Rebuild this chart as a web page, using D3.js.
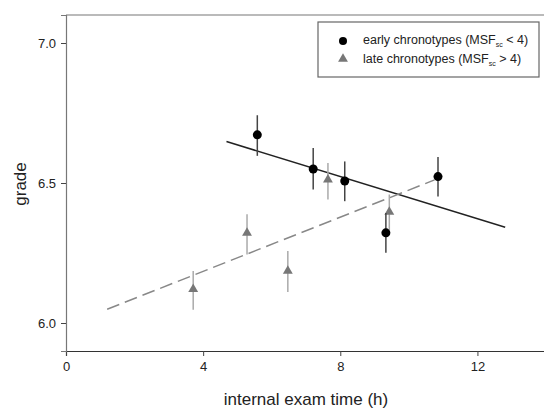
<!DOCTYPE html>
<body style="margin:0">
<svg width="544" height="408" font-family="Liberation Sans, Arial, sans-serif"></svg>
</body>
<script src="https://d3js.org/d3.v7.min.js"></script>
<script>

// early chronotypes (MSFsc < 4)
var earlyTime  = [5.58, 7.21, 8.13, 9.33, 10.85];
var earlyGrade = [6.672, 6.550, 6.507, 6.322, 6.523];
var earlyLo    = [6.597, 6.477, 6.435, 6.251, 6.452];
var earlyHi    = [6.742, 6.625, 6.577, 6.393, 6.593];

// late chronotypes (MSFsc > 4)
var lateTime  = [3.71, 5.28, 6.47, 7.64, 9.43];
var lateGrade = [6.121, 6.322, 6.186, 6.512, 6.397];
var lateLo    = [6.047, 6.245, 6.111, 6.441, 6.330];
var lateHi    = [6.186, 6.388, 6.257, 6.571, 6.459];

// regression lines [x, grade]
var earlyFit = [[4.68, 6.648], [12.81, 6.342]];
var lateFit  = [[1.2, 6.049], [10.75, 6.511]];

var xTicks = [0, 4, 8, 12];
var yTicks = [6.0, 6.5, 7.0];

var svg = d3.select("svg");

var x = d3.scaleLinear().domain([0, 14]).range([66, 546]);
var y = d3.scaleLinear().domain([5.9, 7.1]).range([351, 15]);

// top edge of frame (right edge falls outside the picture)
svg.append("line")
    .attr("x1", 66).attr("x2", 546).attr("y1", 15).attr("y2", 15)
    .attr("stroke", "#777").attr("stroke-width", 1.2);

var xAxis = svg.append("g")
    .attr("transform", "translate(0,351)")
    .call(d3.axisBottom(x).tickValues(xTicks).tickSize(5).tickPadding(6).tickFormat(d3.format("d")));
xAxis.select(".domain").attr("stroke", "#333").attr("stroke-width", 1.2);

var yAxis = svg.append("g")
    .attr("transform", "translate(66,0)")
    .call(d3.axisLeft(y).tickValues(yTicks).tickSize(5).tickPadding(5).tickFormat(d3.format(".1f")));
yAxis.select(".domain").attr("stroke", "#777").attr("stroke-width", 1.2);

svg.selectAll(".tick text").attr("font-size", 13).attr("fill", "#222")
    .attr("font-family", "Liberation Sans, Arial, sans-serif");
svg.selectAll(".tick line").attr("stroke", "#444");

svg.append("text")
    .attr("x", 306).attr("y", 405)
    .attr("text-anchor", "middle")
    .attr("font-size", 17).attr("fill", "#222")
    .text("internal exam time (h)");

svg.append("text")
    .attr("transform", "translate(26,184) rotate(-90)")
    .attr("text-anchor", "middle")
    .attr("font-size", 17).attr("fill", "#222")
    .text("grade");

var line = d3.line().x(function(d) { return x(d[0]); }).y(function(d) { return y(d[1]); });

svg.append("path").attr("d", line(earlyFit))
    .attr("fill", "none").attr("stroke", "#222").attr("stroke-width", 1.5);
svg.append("path").attr("d", line(lateFit))
    .attr("fill", "none").attr("stroke", "#888").attr("stroke-width", 1.5)
    .attr("stroke-dasharray", "13,6");

var late = lateTime.map(function(t, i) {
  return {t: t, g: lateGrade[i], lo: lateLo[i], hi: lateHi[i]};
});
var early = earlyTime.map(function(t, i) {
  return {t: t, g: earlyGrade[i], lo: earlyLo[i], hi: earlyHi[i]};
});

// late error bars + triangles
svg.selectAll(".lbar").data(late).enter().append("line")
    .attr("x1", function(d) { return x(d.t); }).attr("x2", function(d) { return x(d.t); })
    .attr("y1", function(d) { return y(d.lo); }).attr("y2", function(d) { return y(d.hi); })
    .attr("stroke", "#aaa").attr("stroke-width", 1.5);

var tri = d3.symbol().type(d3.symbolTriangle).size(42);
svg.selectAll(".ltri").data(late).enter().append("path")
    .attr("d", tri)
    .attr("transform", function(d) { return "translate(" + x(d.t) + "," + y(d.g) + ")"; })
    .attr("fill", "#777");

// early error bars + circles
svg.selectAll(".ebar").data(early).enter().append("line")
    .attr("x1", function(d) { return x(d.t); }).attr("x2", function(d) { return x(d.t); })
    .attr("y1", function(d) { return y(d.lo); }).attr("y2", function(d) { return y(d.hi); })
    .attr("stroke", "#444").attr("stroke-width", 1.5);

svg.selectAll(".ecirc").data(early).enter().append("circle")
    .attr("cx", function(d) { return x(d.t); })
    .attr("cy", function(d) { return y(d.g); })
    .attr("r", 4.5)
    .attr("fill", "#000");

// legend
var lg = svg.append("g");
lg.append("rect")
    .attr("x", 318).attr("y", 22).attr("width", 221).attr("height", 55)
    .attr("fill", "#fff").attr("stroke", "#666").attr("stroke-width", 1.2);
lg.append("circle").attr("cx", 343).attr("cy", 41).attr("r", 4).attr("fill", "#000");
lg.append("path").attr("d", tri).attr("transform", "translate(343,59)").attr("fill", "#777");

var labels = [["early chronotypes (MSF", " < 4)"], ["late chronotypes (MSF", " > 4)"]];
labels.forEach(function(l, i) {
  var t = lg.append("text")
      .attr("x", 363).attr("y", 44 + i * 19)
      .attr("font-size", 12.5).attr("fill", "#222");
  t.append("tspan").text(l[0]);
  t.append("tspan").attr("font-size", 7).attr("dy", 3).text("sc");
  t.append("tspan").attr("dy", -3).text(l[1]);
});

</script>
